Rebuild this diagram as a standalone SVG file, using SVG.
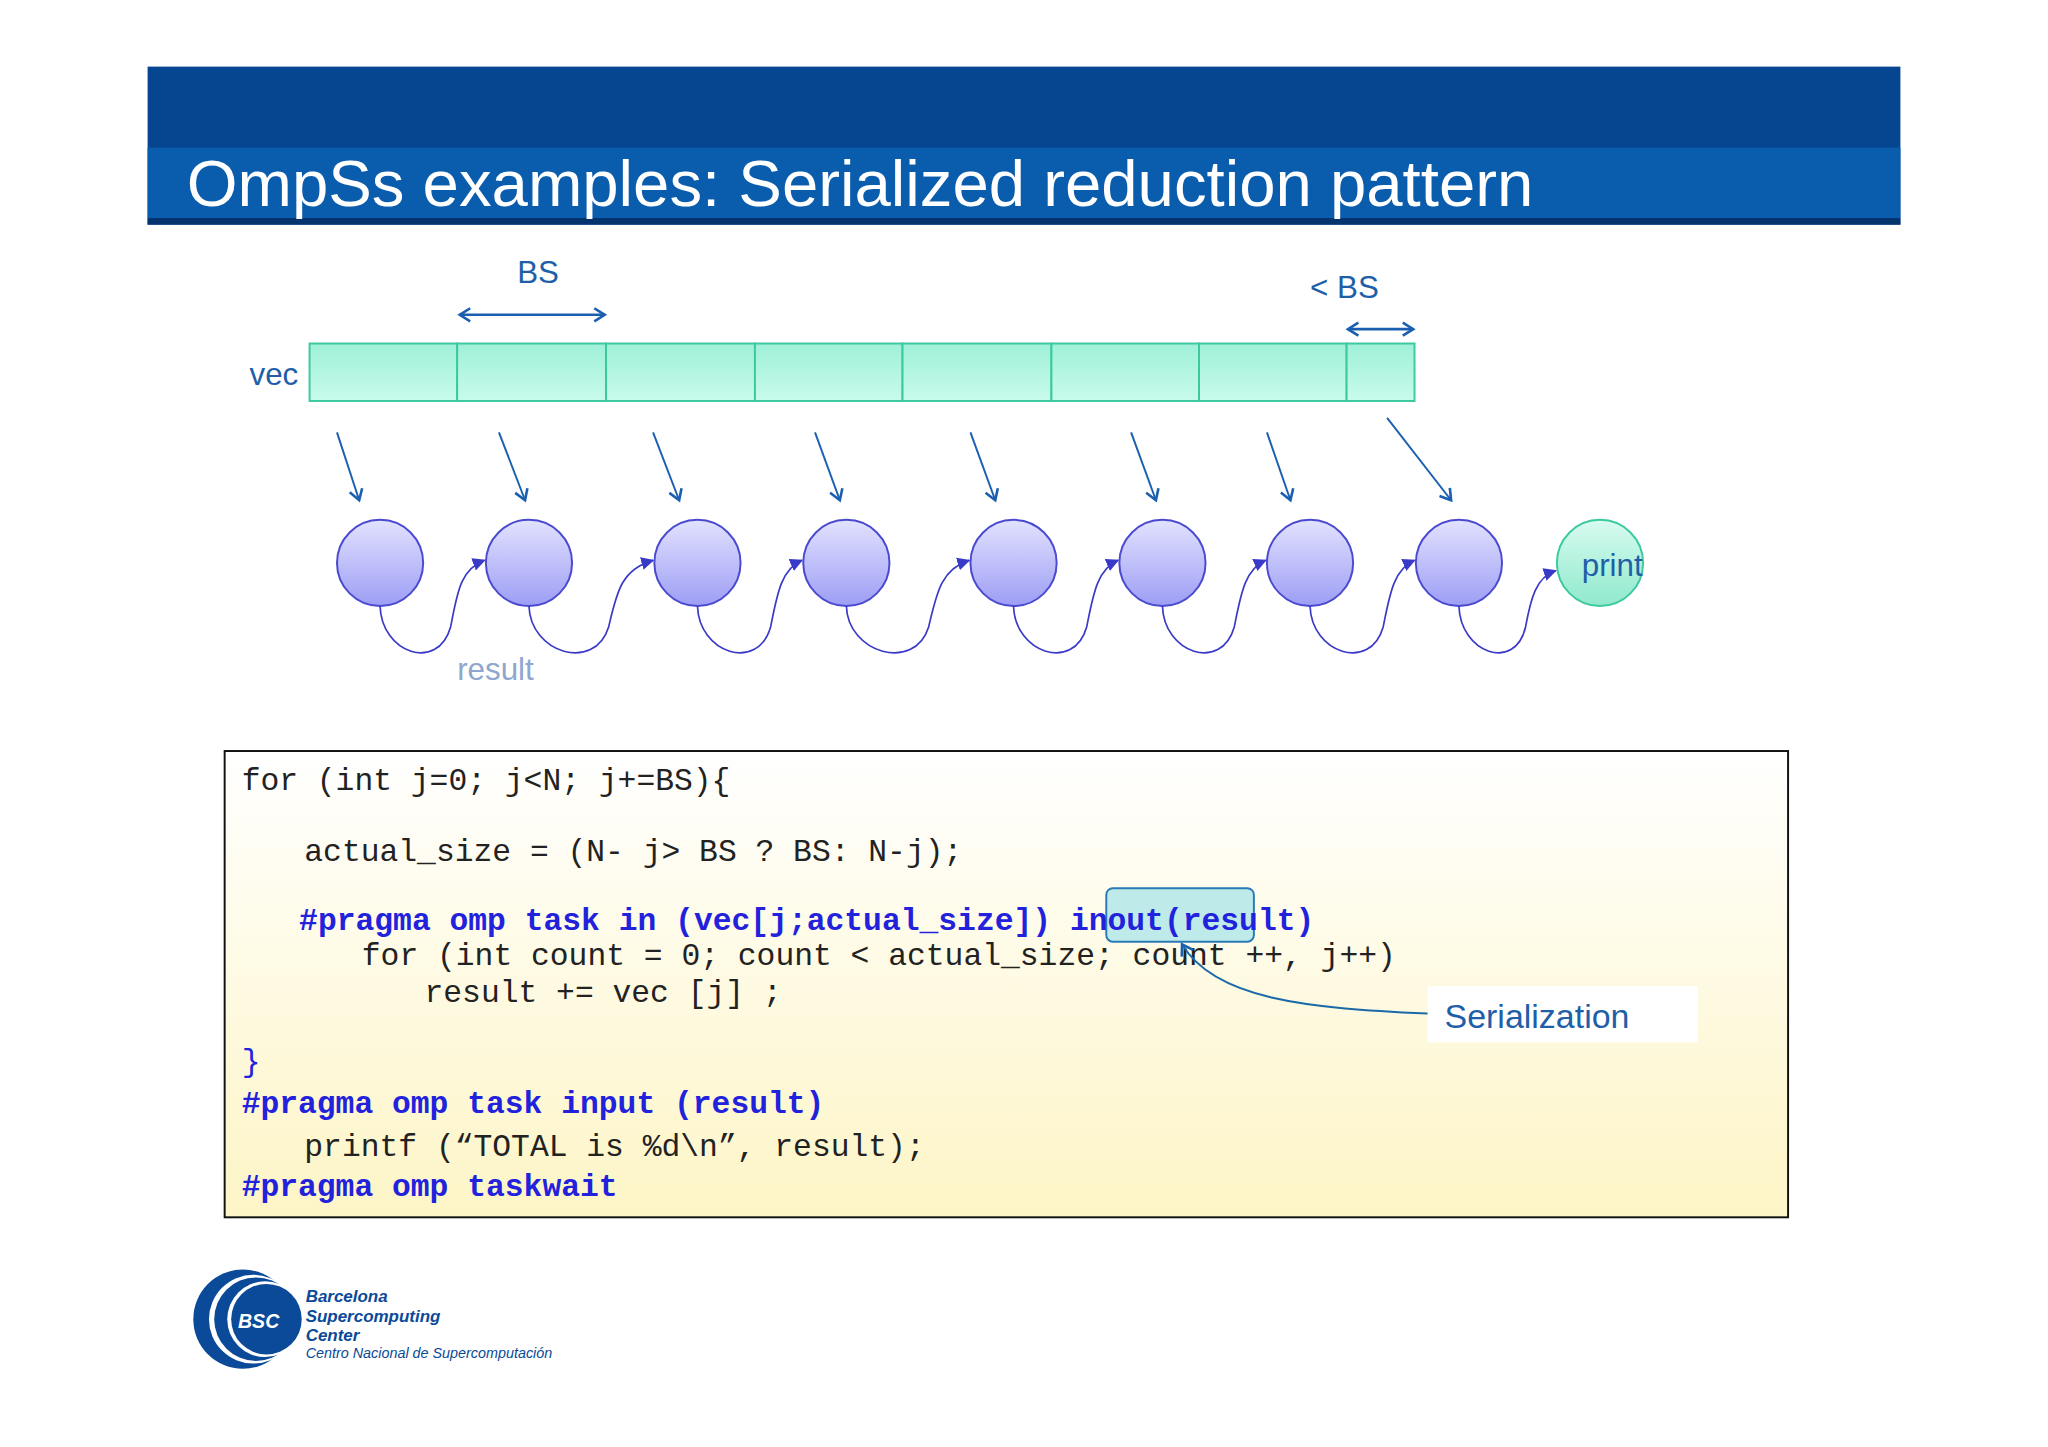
<svg xmlns="http://www.w3.org/2000/svg" width="2048" height="1447" viewBox="0 0 2048 1447">
<style>
.lbl{font-family:"Liberation Sans",Arial,sans-serif;fill:#1f5fa8}
.code{font-family:"Liberation Mono","Courier New",monospace;font-size:24px;fill:#222;white-space:pre}
.kw{fill:#2222dd;font-weight:bold}
.cell{fill:url(#cellg);stroke:#3cc9a0;stroke-width:1.5}
.node{fill:url(#nodeg);stroke:#4a4ad0;stroke-width:1.5}
.dn{stroke:#1a5fb0;stroke-width:1.5;fill:none;marker-end:url(#ah)}
.rc{stroke:#3a3ac8;stroke-width:1.3;fill:none;marker-end:url(#ah2)}
</style>
<defs>
<linearGradient id="cellg" x1="0" y1="0" x2="0" y2="1"><stop offset="0" stop-color="#9ff0d8"/><stop offset="1" stop-color="#c8fbeb"/></linearGradient>
<linearGradient id="nodeg" x1="0" y1="0" x2="0" y2="1"><stop offset="0" stop-color="#e2e2ff"/><stop offset="1" stop-color="#9d9df5"/></linearGradient>
<linearGradient id="printg" x1="0" y1="0" x2="0" y2="1"><stop offset="0" stop-color="#d8fbf0"/><stop offset="1" stop-color="#8fe9cc"/></linearGradient>
<linearGradient id="codeg" x1="0" y1="0" x2="0" y2="1"><stop offset="0" stop-color="#ffffff"/><stop offset="1" stop-color="#fdf5c6"/></linearGradient>
<marker id="ah" markerWidth="12" markerHeight="12" refX="9" refY="6" orient="auto" markerUnits="userSpaceOnUse"><path d="M1,1 L9,6 L1,11" fill="none" stroke="#1a5fb0" stroke-width="2"/></marker>
<marker id="ah2" markerWidth="10" markerHeight="10" refX="9" refY="5" orient="auto" markerUnits="userSpaceOnUse"><path d="M0,0 L10,5 L0,10 Z" fill="#3a3ac8"/></marker>
<marker id="ahs" markerWidth="12" markerHeight="12" refX="9" refY="6" orient="auto-start-reverse" markerUnits="userSpaceOnUse"><path d="M1,1 L9,6 L1,11" fill="none" stroke="#1a5fb0" stroke-width="2"/></marker>
</defs>
<rect width="2048" height="1447" fill="#fff"/>
<g transform="scale(1.30612)">
<g id="banner">
<rect x="113" y="51" width="1342" height="121" fill="#064690"/>
<rect x="113" y="113" width="1342" height="54" fill="#0a5cad"/>
<rect x="113" y="167" width="1342" height="5" fill="#05336e"/>
<text x="143" y="158" font-family="Liberation Sans,Arial,sans-serif" font-size="50" fill="#fff">OmpSs examples: Serialized reduction pattern</text>
</g>
<g id="vec">
<text class="lbl" x="191" y="295" font-size="24">vec</text>
<rect class="cell" x="237" y="263" width="113" height="44"/>
<rect class="cell" x="350" y="263" width="114" height="44"/>
<rect class="cell" x="464" y="263" width="114" height="44"/>
<rect class="cell" x="578" y="263" width="113" height="44"/>
<rect class="cell" x="691" y="263" width="114" height="44"/>
<rect class="cell" x="805" y="263" width="113" height="44"/>
<rect class="cell" x="918" y="263" width="113" height="44"/>
<rect class="cell" x="1031" y="263" width="52" height="44"/>
</g>
<g id="bs">
<text class="lbl" x="396" y="217" font-size="24">BS</text>
<line x1="352" y1="241" x2="463" y2="241" stroke="#1a5fb0" stroke-width="2" marker-start="url(#ahs)" marker-end="url(#ahs)"/>
<text class="lbl" x="1003" y="228" font-size="24">&lt; BS</text>
<line x1="1032" y1="252" x2="1082" y2="252" stroke="#1a5fb0" stroke-width="2" marker-start="url(#ahs)" marker-end="url(#ahs)"/>
</g>
<g id="t1"><circle class="node" cx="291" cy="431" r="33"/></g>
<g id="t2"><circle class="node" cx="405" cy="431" r="33"/></g>
<g id="t3"><circle class="node" cx="534" cy="431" r="33"/></g>
<g id="t4"><circle class="node" cx="648" cy="431" r="33"/></g>
<g id="t5"><circle class="node" cx="776" cy="431" r="33"/></g>
<g id="t6"><circle class="node" cx="890" cy="431" r="33"/></g>
<g id="t7"><circle class="node" cx="1003" cy="431" r="33"/></g>
<g id="t8"><circle class="node" cx="1117" cy="431" r="33"/></g>
<g id="print"><circle cx="1225" cy="431" r="33" fill="url(#printg)" stroke="#3cc9a0" stroke-width="1.5"/>
<text class="lbl" x="1211" y="441" font-size="24">print</text></g>
<g id="connectors">
<path class="dn" d="M258,331 L275,383"/>
<path class="dn" d="M382,331 L402,383"/>
<path class="dn" d="M500,331 L520,383"/>
<path class="dn" d="M624,331 L643,383"/>
<path class="dn" d="M743,331 L762,383"/>
<path class="dn" d="M866,331 L885,383"/>
<path class="dn" d="M970,331 L988,383"/>
<path class="dn" d="M1062,320 L1111,383"/>
<path class="rc" d="M291,464 C292,500 335,515 345,480 C350,455 352,436 371,429"/>
<path class="rc" d="M405,464 C406,500 455,515 466,480 C472,455 475,436 500,429"/>
<path class="rc" d="M534,464 C535,500 580,515 590,480 C595,455 598,436 614,429"/>
<path class="rc" d="M648,464 C649,500 700,515 711,480 C717,455 720,436 742,429"/>
<path class="rc" d="M776,464 C777,500 822,515 832,480 C837,455 840,436 856,429"/>
<path class="rc" d="M890,464 C891,500 935,515 945,480 C950,455 953,436 969,429"/>
<path class="rc" d="M1003,464 C1004,500 1049,515 1059,480 C1064,455 1067,436 1083,429"/>
<path class="rc" d="M1117,464 C1118,500 1160,515 1168,480 C1172,458 1176,442 1191,437"/>
</g>
<text x="350" y="521" font-family="Liberation Sans,Arial,sans-serif" font-size="24" fill="#8fa6cf">result</text>
<g id="code">
<rect x="172" y="575" width="1197" height="357" fill="url(#codeg)" stroke="#111" stroke-width="1.5"/>
<rect x="847" y="680" width="113" height="41" rx="5" fill="#bfeaea" stroke="#2a7ab8" stroke-width="1.5"/>
<text class="code" x="185" y="605">for (int j=0; j&lt;N; j+=BS){</text>
<text class="code" x="233" y="659">actual_size = (N- j&gt; BS ? BS: N-j);</text>
<text class="code kw" x="229" y="712">#pragma omp task in (vec[j;actual_size]) inout(result)</text>
<text class="code" x="277" y="739">for (int count = 0; count &lt; actual_size; count ++, j++)</text>
<text class="code" x="325" y="767">result += vec [j] ;</text>
<text class="code" x="185" y="820" style="fill:#2222dd">}</text>
<text class="code kw" x="185" y="852">#pragma omp task input (result)</text>
<text class="code" x="233" y="885">printf (“TOTAL is %d\n”, result);</text>
<text class="code kw" x="185" y="916">#pragma omp taskwait</text>
</g>
<g id="serialization">
<rect x="1093" y="755" width="207" height="43" fill="#fff"/>
<path d="M1093,776 C1000,772 930,765 905,723" fill="none" stroke="#1a6aa8" stroke-width="1.5" marker-end="url(#ah)"/>
<text class="lbl" x="1106" y="787" font-size="26">Serialization</text>
</g>
<g id="logo">
<circle cx="186" cy="1010" r="38" fill="#0a4a98"/>
<circle cx="194" cy="1010" r="34" fill="#fff"/>
<circle cx="196" cy="1010" r="32" fill="#0a4a98"/>
<circle cx="203" cy="1010" r="29" fill="#fff"/>
<circle cx="204" cy="1010" r="27" fill="#0a4a98"/>
<text x="198" y="1017" text-anchor="middle" font-family="Liberation Sans,Arial,sans-serif" font-size="15" font-weight="bold" font-style="italic" fill="#fff">BSC</text>
<text x="234" y="997" font-family="Liberation Sans,Arial,sans-serif" font-size="13" font-weight="bold" font-style="italic" fill="#0a4a98">Barcelona</text>
<text x="234" y="1012" font-family="Liberation Sans,Arial,sans-serif" font-size="13" font-weight="bold" font-style="italic" fill="#0a4a98">Supercomputing</text>
<text x="234" y="1027" font-family="Liberation Sans,Arial,sans-serif" font-size="13" font-weight="bold" font-style="italic" fill="#0a4a98">Center</text>
<text x="234" y="1040" font-family="Liberation Sans,Arial,sans-serif" font-size="11" font-style="italic" fill="#0a4a98">Centro Nacional de Supercomputación</text>
</g>
</g>
</svg>
